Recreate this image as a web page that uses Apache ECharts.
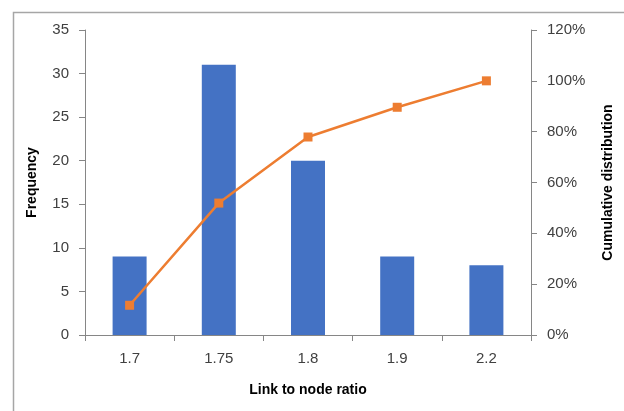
<!DOCTYPE html>
<html><head><meta charset="utf-8">
<script src="https://cdn.jsdelivr.net/npm/echarts@6/dist/echarts.min.js"></script>
<style>html,body{margin:0;padding:0;background:#fff}#c{width:624px;height:411px}</style>
</head><body><div id="c"></div>
<script>
const categories = ['1.7', '1.75', '1.8', '1.9', '2.2'];
const frequency = [9, 31, 20, 9, 8];
const cumulative = [0.117, 0.519, 0.779, 0.896, 1.0];
const leftTicks = [0, 5, 10, 15, 20, 25, 30, 35];
const rightTicks = ['0%', '20%', '40%', '60%', '80%', '100%', '120%'];

const chart = echarts.init(document.getElementById('c'));
const font = '"Liberation Sans", Arial, sans-serif';
const axisLine = { show: true, lineStyle: { color: '#868686', width: 1 } };
chart.setOption({
  animation: false,
  backgroundColor: '#fff',
  graphic: [{
    type: 'rect', left: 11, top: 10, shape: { width: 640, height: 420 },
    style: { fill: 'none', stroke: '#a6a6a6', lineWidth: 1.5 }, silent: true
  }],
  grid: { left: 85, right: 93, top: 30, bottom: 76 },
  xAxis: {
    type: 'category', data: categories,
    axisLine: axisLine,
    axisTick: { show: true, length: 6, lineStyle: { color: '#868686' } },
    axisLabel: { color: '#404040', fontSize: 15, fontFamily: font, margin: 16 },
    name: 'Link to node ratio', nameLocation: 'middle', nameGap: 48,
    nameTextStyle: { color: '#000', fontSize: 14, fontWeight: 'bold', fontFamily: font }
  },
  yAxis: [{
    type: 'value', min: 0, max: 35, interval: 5,
    axisLine: axisLine,
    axisTick: { show: true, length: 6, lineStyle: { color: '#868686' } },
    splitLine: { show: false },
    axisLabel: { color: '#404040', fontSize: 15, fontFamily: font, margin: 16,
      formatter: v => String(leftTicks[Math.round(v / 5)]) },
    name: 'Frequency', nameLocation: 'middle', nameGap: 46,
    nameTextStyle: { color: '#000', fontSize: 14, fontWeight: 'bold', fontFamily: font }
  }, {
    type: 'value', min: 0, max: 1.2, interval: 0.2, position: 'right',
    axisLine: axisLine,
    axisTick: { show: true, length: 6, lineStyle: { color: '#868686' } },
    splitLine: { show: false },
    axisLabel: { color: '#404040', fontSize: 15, fontFamily: font, margin: 16,
      formatter: v => rightTicks[Math.round(v / 0.2)] },
    name: 'Cumulative distribution', nameLocation: 'middle', nameGap: 70,
    nameRotate: 90,
    nameTextStyle: { color: '#000', fontSize: 14, fontWeight: 'bold', fontFamily: font }
  }],
  series: [{
    type: 'bar', data: frequency, barWidth: 34,
    itemStyle: { color: '#4472C4' }
  }, {
    type: 'line', yAxisIndex: 1, data: cumulative,
    symbol: 'rect', symbolSize: 9,
    lineStyle: { color: '#ED7D31', width: 2.5 },
    itemStyle: { color: '#ED7D31' }
  }]
});
</script></body></html>
